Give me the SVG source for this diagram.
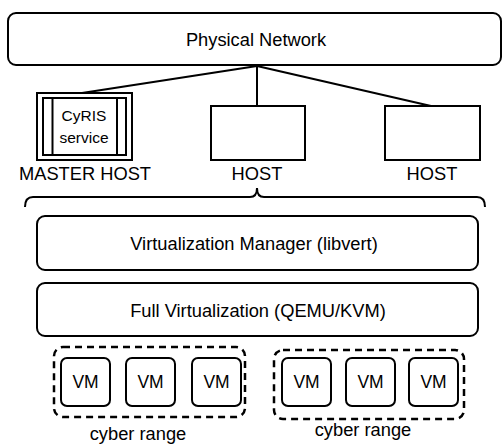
<svg xmlns="http://www.w3.org/2000/svg" width="502" height="447" viewBox="0 0 502 447">
<style>
text{font-family:"Liberation Sans",Arial,sans-serif;fill:#000;text-anchor:middle}
.b{fill:#fff;stroke:#000;stroke-width:2}
.t{font-size:18.3px}
.v{font-size:17.5px}
.s{font-size:15.5px}
.d{fill:none;stroke:#000;stroke-width:2.5;stroke-dasharray:7 5}
.l{fill:none;stroke:#000;stroke-width:2}
</style>
<rect width="502" height="447" fill="#fff"/>
<g id="connectors">
<line class="l" x1="257" y1="66" x2="82" y2="93"/>
<line class="l" x1="257" y1="66" x2="257" y2="106"/>
<line class="l" x1="257" y1="66" x2="431" y2="106"/>
<path class="l" d="M25,207 Q25,197 33,197 L250,197 Q257,197 257,188 Q257,197 264,197 L477,197 Q485,197 485,207"/>
</g>
<g id="physical-network">
<rect class="b" x="8" y="13" width="493" height="52" rx="8"/>
<text class="t" x="256" y="46">Physical Network</text>
</g>
<g id="master-host">
<rect class="b" x="37" y="93" width="95" height="67"/>
<rect class="b" x="43" y="98" width="83" height="57"/>
<line class="l" x1="52.5" y1="98" x2="52.5" y2="155"/>
<line class="l" x1="117" y1="98" x2="117" y2="155"/>
<text class="s" x="84" y="121">CyRIS</text>
<text class="s" x="84" y="143">service</text>
<text class="t" x="85" y="180">MASTER HOST</text>
</g>
<g id="host1">
<rect class="b" x="211" y="106" width="94" height="54"/>
<text class="t" x="257" y="180">HOST</text>
</g>
<g id="host2">
<rect class="b" x="385" y="106" width="95" height="54"/>
<text class="t" x="432" y="180">HOST</text>
</g>
<g id="virtualization-manager">
<rect class="b" x="37" y="216" width="441" height="54" rx="8"/>
<text class="t" x="254" y="250">Virtualization Manager (libvert)</text>
</g>
<g id="full-virtualization">
<rect class="b" x="37" y="283" width="441" height="53" rx="8"/>
<text class="t" x="258" y="317">Full Virtualization (QEMU/KVM)</text>
</g>
<g id="cyber-range-1">
<rect class="d" x="54" y="347" width="191" height="70" rx="9"/>
<rect class="b" x="61" y="358" width="49" height="48" rx="6"/>
<rect class="b" x="126" y="358" width="49" height="48" rx="6"/>
<rect class="b" x="192" y="358" width="49" height="48" rx="6"/>
<text class="v" x="85.5" y="388">VM</text>
<text class="v" x="150.5" y="388">VM</text>
<text class="v" x="216.5" y="388">VM</text>
<text class="t" x="138" y="440">cyber range</text>
</g>
<g id="cyber-range-2">
<rect class="d" x="274" y="350" width="190" height="69" rx="9"/>
<rect class="b" x="282" y="358" width="49" height="48" rx="6"/>
<rect class="b" x="346" y="358" width="49" height="48" rx="6"/>
<rect class="b" x="409" y="358" width="49" height="48" rx="6"/>
<text class="v" x="306.5" y="388">VM</text>
<text class="v" x="370.5" y="388">VM</text>
<text class="v" x="433.5" y="388">VM</text>
<text class="t" x="363" y="436">cyber range</text>
</g>
</svg>
